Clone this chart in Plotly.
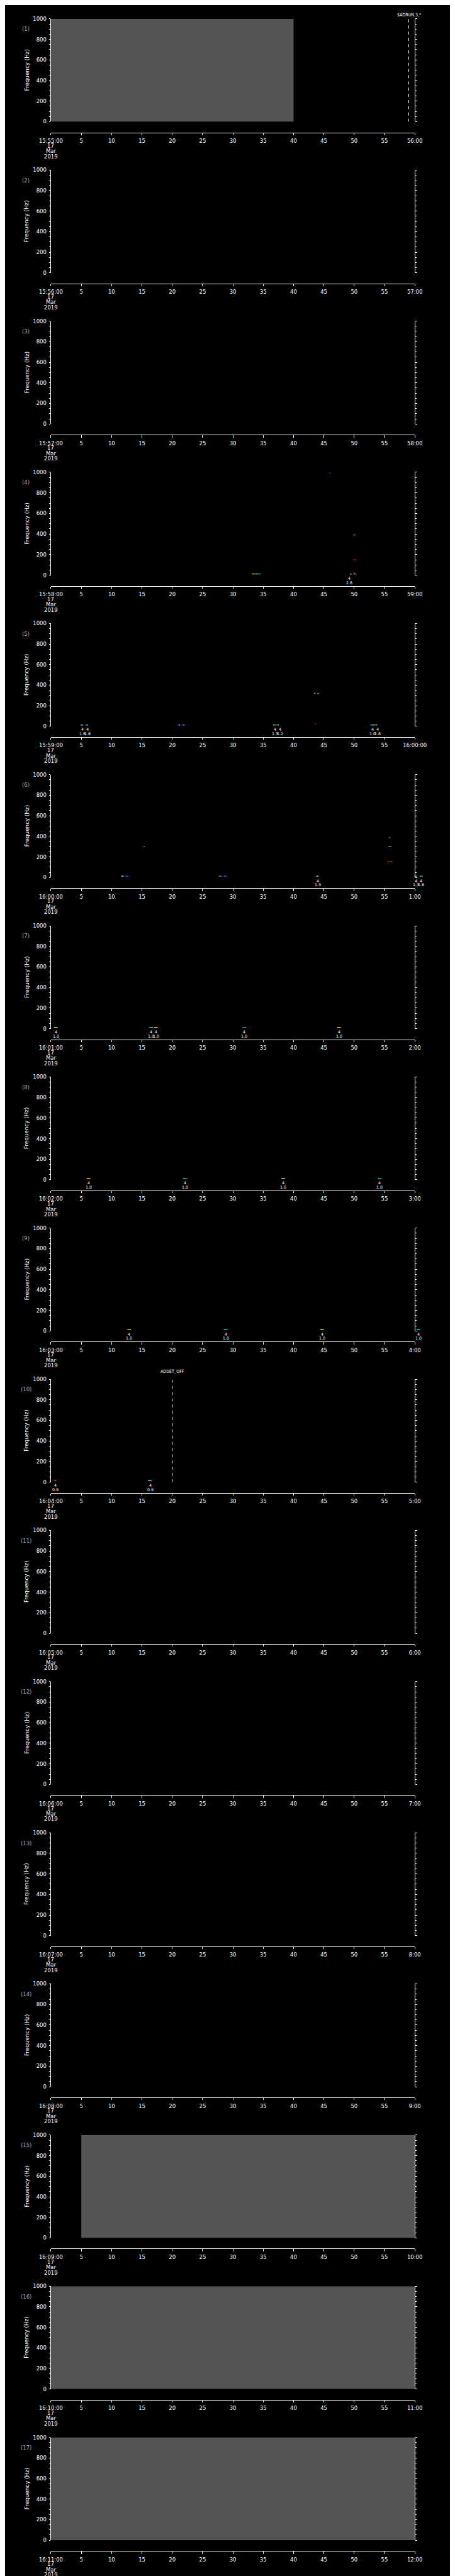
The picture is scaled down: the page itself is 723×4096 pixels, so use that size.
import plotly.graph_objects as go

# ---------------- data ----------------
PANEL_START = ["15:55:00", "15:56:00", "15:57:00", "15:58:00", "15:59:00", "16:00:00",
               "16:01:00", "16:02:00", "16:03:00", "16:04:00", "16:05:00", "16:06:00",
               "16:07:00", "16:08:00", "16:09:00", "16:10:00", "16:11:00"]
PANEL_END = ["56:00", "57:00", "58:00", "59:00", "16:00:00", "1:00", "2:00", "3:00", "4:00",
             "5:00", "6:00", "7:00", "8:00", "9:00", "10:00", "11:00", "12:00"]
DATE_LINES = ["17", "Mar", "2019"]
X_TICKS = [0, 5, 10, 15, 20, 25, 30, 35, 40, 45, 50, 55, 60]
X_MID_LABELS = ["5", "10", "15", "20", "25", "30", "35", "40", "45", "50", "55"]
Y_TICKS = [0, 200, 400, 600, 800, 1000]

# grey (no data) blocks: panel, start s, end s
GRAY_PANEL = [1, 15, 16, 17]
GRAY_T0 = [0, 5, 0, 0]
GRAY_T1 = [40, 60, 60, 60]

# event markers
EVT_PANEL = [1, 10]
EVT_T = [59.0, 20.0]
EVT_TEXT = ["$ADRUN,3,*", "ADDET_OFF"]

# spectrogram pixels: panel, t0, t1 (s), frequency (Hz), colour
DB, B, LB, CY, C, GR, LG, YG, YE, OR, RE, DR = ("#00008f", "#0000ff", "#0070ff", "#00c0ff", "#00ffff",
                                                "#40ff80", "#80ff80", "#c0ff40", "#ffff00", "#ff9000",
                                                "#ff0000", "#a00000")
MARKS = [
    (4, 33.1, 33.5, 12, YG), (4, 33.5, 33.8, 12, GR), (4, 33.8, 34.2, 12, YE), (4, 34.2, 34.6, 12, CY),
    (4, 45.9, 46.1, 993, LB),
    (4, 49.9, 50.2, 391, CY),
    (4, 49.8, 50.3, 150, RE),
    (4, 49.3, 49.6, 10, GR), (4, 49.8, 50.1, 20, RE), (4, 50.0, 50.2, 12, YE), (4, 50.2, 50.4, 10, LB),
    (5, 4.9, 5.1, 13, YE), (5, 5.1, 5.3, 13, C), (5, 5.3, 5.4, 13, B),
    (5, 5.7, 5.9, 13, C), (5, 5.9, 6.1, 13, YE), (5, 6.1, 6.3, 13, B),
    (5, 20.7, 21.0, 13, B), (5, 21.0, 21.3, 13, YE), (5, 21.3, 21.7, 13, B), (5, 21.7, 22.0, 13, C),
    (5, 22.0, 22.2, 13, B),
    (5, 36.6, 36.9, 13, YE), (5, 36.9, 37.2, 13, C), (5, 37.3, 37.6, 13, YE), (5, 37.6, 37.9, 13, B),
    (5, 52.7, 53.1, 13, C), (5, 53.1, 53.4, 13, YE), (5, 53.5, 53.8, 13, YE), (5, 53.8, 54.1, 13, B),
    (5, 43.4, 43.6, 322, YE), (5, 43.5, 43.7, 317, RE), (5, 43.9, 44.2, 317, GR),
    (5, 43.4, 43.8, 24, DR),
    (6, 11.6, 12.0, 13, YG), (6, 12.0, 12.4, 13, B), (6, 12.4, 12.6, 13, C), (6, 12.6, 13.0, 13, B),
    (6, 15.2, 15.35, 304, DR), (6, 15.3, 15.5, 304, CY),
    (6, 27.7, 28.1, 13, OR), (6, 28.1, 28.6, 13, B), (6, 28.6, 28.8, 13, C), (6, 28.8, 29.2, 13, B),
    (6, 43.7, 43.9, 13, OR), (6, 43.9, 44.1, 13, YE), (6, 44.1, 44.3, 13, B),
    (6, 55.75, 55.9, 387, LG), (6, 55.9, 56.0, 387, LB),
    (6, 55.5, 55.7, 304, B), (6, 55.7, 55.9, 304, OR), (6, 55.9, 56.0, 304, YE), (6, 56.0, 56.1, 300, GR),
    (6, 55.5, 55.9, 152, RE), (6, 55.9, 56.0, 154, DR), (6, 56.0, 56.2, 152, C),
    (6, 59.9, 60.1, 13, OR), (6, 60.1, 60.3, 13, YE), (6, 60.3, 60.5, 13, B),
    (6, 60.8, 61.3, 13, C),
    (7, 0.5, 1.1, 13, YE), (7, 16.2, 16.8, 13, C), (7, 17.0, 17.6, 13, YE), (7, 31.6, 32.2, 13, CY),
    (7, 47.2, 47.8, 13, YE),
    (8, 5.9, 6.5, 13, YE), (8, 21.8, 22.4, 13, C), (8, 38.0, 38.6, 13, YE), (8, 53.9, 54.5, 13, C),
    (9, 12.6, 13.2, 13, YE), (9, 28.5, 29.1, 13, C), (9, 44.4, 45.0, 13, YE), (9, 60.3, 60.9, 13, C),
    (10, 0.43, 0.65, 15, RE), (10, 0.65, 0.85, 15, OR), (10, 0.85, 1.1, 15, B),
    (10, 16.0, 16.3, 15, YE), (10, 16.3, 16.6, 15, LG), (10, 16.6, 16.8, 15, B),
]
MARK_PANEL = [m[0] for m in MARKS]
MARK_T0 = [m[1] for m in MARKS]
MARK_T1 = [m[2] for m in MARKS]
MARK_F = [m[3] for m in MARKS]
MARK_C = [m[4] for m in MARKS]

# detection labels: panel, t (s), upper text, lower text
LBL_PANEL = [4, 5, 5, 5, 5, 5, 5, 6, 6, 6, 7, 7, 7, 7, 7, 8, 8, 8, 8, 9, 9, 9, 9, 10, 10]
LBL_T = [49.2, 5.2, 6.0, 36.9, 37.8, 53.0, 53.9, 44.0, 60.2, 61.0,
         0.8, 16.5, 17.3, 31.9, 47.5, 6.2, 22.1, 38.3, 54.2, 12.9, 28.8, 44.7, 60.6, 0.74, 16.4]
LBL_TOP = ["4"] * 25
LBL_BOT = ["2.8", "1.8", "1.6", "1.3", "1.2", "1.0", "1.8", "1.3", "1.3", "1.8",
           "1.0", "1.0", "1.0", "1.0", "1.0", "1.0", "1.0", "1.0", "1.0", "1.0", "1.0", "1.0", "1.0",
           "0.9", "0.9"]

# ---------------- geometry (reference pixels) ----------------
S = 723 / 1024
RW, RH = 1024.0, 5802.0
NP = 17
PH = RH / NP
X0, X1 = 80.7, 945.0
PXS = (X1 - X0) / 60.0
WIDE_RANGE = (RW - X0) / PXS
FONT = "DejaVu Sans"
FONT_C = "DejaVu Sans Condensed, DejaVu Sans"
GRAY = "#545454"
LABEL_GRAY = "#a8a8a8"


def yp(r):
    return 1 - r / RH


def xp(r):
    return r / RW


def aid(letter, n):
    return letter if n == 1 else f"{letter}{n}"


def aname(letter, n):
    return f"{letter}axis" if n == 1 else f"{letter}axis{n}"


fig = go.Figure()
layout = dict(width=723, height=4096, margin=dict(l=0, r=0, t=0, b=0),
              paper_bgcolor="black", plot_bgcolor="rgba(0,0,0,0)", showlegend=False)
annotations = []
shapes = []

for i in range(NP):
    n = i + 1
    w = n + NP
    off = i * PH
    ydom = [yp(off + 256.3), yp(off + 24.0)]
    layout[aname("x", n)] = dict(
        domain=[xp(X0), xp(X1)], range=[0, 60], anchor="free", position=yp(off + 280.5),
        showline=True, linecolor="white", linewidth=1, ticks="outside", ticklen=4.7 * S,
        tickwidth=1, tickcolor="white", tickmode="array", tickvals=X_TICKS,
        ticktext=[PANEL_START[i]] + X_MID_LABELS + [PANEL_END[i]],
        tickfont=dict(family=FONT, size=12 * S, color="white"), ticklabelstandoff=2,
        showgrid=False, zeroline=False, fixedrange=True)
    layout[aname("y", n)] = dict(
        domain=ydom, range=[0, 1000], anchor=aid("x", n), showline=True, mirror="ticks",
        linecolor="white", linewidth=1, ticks="outside", ticklen=3.5 * S, tickwidth=1,
        tickcolor="white", tickmode="array", tickvals=Y_TICKS,
        tickfont=dict(family=FONT, size=12 * S, color="white"), ticklabelstandoff=2,
        minor=dict(tickmode="linear", tick0=0, dtick=50, ticks="outside", ticklen=3.0 * S,
                   tickwidth=1, tickcolor="white"),
        showgrid=False, zeroline=False, fixedrange=True)
    # wide, invisible axes so pixels past the 60 s edge are not clipped
    layout[aname("x", w)] = dict(domain=[xp(X0), 1.0], range=[0, WIDE_RANGE], anchor=aid("y", w),
                                 visible=False, fixedrange=True)
    layout[aname("y", w)] = dict(domain=ydom, range=[0, 1000], anchor=aid("x", w),
                                 visible=False, fixedrange=True)
    fig.add_trace(go.Scatter(x=[None], y=[None], xaxis=aid("x", n), yaxis=aid("y", n),
                             mode="markers", hoverinfo="skip"))

    # date lines below first tick
    for k, txt in enumerate(DATE_LINES):
        annotations.append(dict(text=txt, x=xp(X0), y=yp(off + 310.5 + 12 * k), xref="paper",
                                yref="paper", xanchor="center", yanchor="middle", showarrow=False,
                                font=dict(family=FONT, size=12 * S, color="white")))
    # panel number
    annotations.append(dict(text=f"({n})", x=xp(21), y=yp(off + 47.3), xref="paper", yref="paper",
                            xanchor="center", yanchor="middle", showarrow=False,
                            font=dict(family=FONT, size=12 * S, color=LABEL_GRAY)))
    # y title
    annotations.append(dict(text="Frequency (Hz)", x=xp(23.3), y=yp(off + 140.5), xref="paper",
                            yref="paper", xanchor="center", yanchor="middle", textangle=-90,
                            showarrow=False, font=dict(family=FONT, size=12.5 * S, color="white")))

# grey blocks
for p, t0, t1 in zip(GRAY_PANEL, GRAY_T0, GRAY_T1):
    shapes.append(dict(type="rect", xref=aid("x", p), yref=aid("y", p), x0=t0, x1=t1, y0=0, y1=1000,
                       fillcolor=GRAY, line=dict(width=0), layer="below"))

# event lines
EVT_LABEL_Y = {1: 15.3, 10: 6.7}
for p, t, txt in zip(EVT_PANEL, EVT_T, EVT_TEXT):
    off = (p - 1) * PH
    shapes.append(dict(type="line", xref=aid("x", p), yref=aid("y", p), x0=t, x1=t, y0=0, y1=1000,
                       line=dict(color="white", width=1, dash=f"{6.7 * S:.2f}px,{7.3 * S:.2f}px")))
    annotations.append(dict(text=txt, x=t, y=yp(off + EVT_LABEL_Y[p]), xref=aid("x", p), yref="paper",
                            xanchor="center", yanchor="middle", showarrow=False,
                            font=dict(family=FONT_C, size=10 * S, color="white")))

# spectrogram pixels, grouped per panel and colour
groups = {}
for p, t0, t1, f, c in zip(MARK_PANEL, MARK_T0, MARK_T1, MARK_F, MARK_C):
    g = groups.setdefault((p, c), ([], []))
    g[0].extend([t0, t1, None])
    g[1].extend([f, f, None])
for (p, c), (xs, ys) in groups.items():
    fig.add_trace(go.Scatter(x=xs, y=ys, mode="lines", line=dict(color=c, width=1.2),
                             xaxis=aid("x", p + NP), yaxis=aid("y", p + NP), hoverinfo="skip"))

# detection labels
for p, t, top, bot in zip(LBL_PANEL, LBL_T, LBL_TOP, LBL_BOT):
    off = (p - 1) * PH
    for txt, yr in ((top, 263.3), (bot, 272.7)):
        annotations.append(dict(text=txt, x=t, y=yp(off + yr), xref=aid("x", p + NP), yref="paper",
                                xanchor="center", yanchor="middle", showarrow=False,
                                font=dict(family=FONT, size=9 * S, color="white")))

layout["annotations"] = annotations
layout["shapes"] = shapes
fig.update_layout(**layout)
fig.write_html("out.html")
